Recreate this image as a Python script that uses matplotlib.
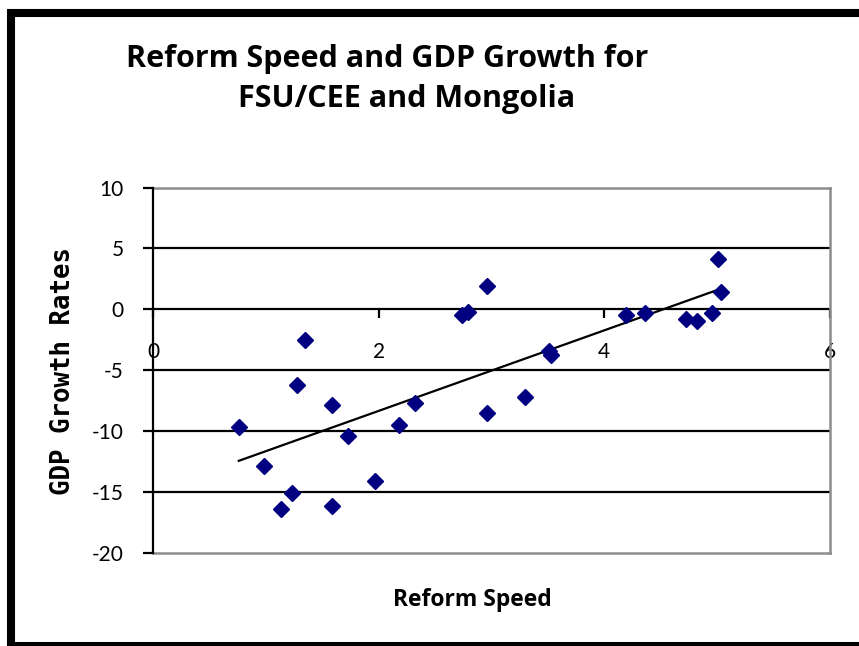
import numpy as np
import matplotlib
matplotlib.use("Agg")
import matplotlib.pyplot as plt
from matplotlib.patches import Rectangle

plt.rcParams["axes.unicode_minus"] = False

# ---- data ----
reform_speed = [0.76, 0.98, 1.13, 1.23, 1.28, 1.35, 1.59, 1.59, 1.73, 1.97,
                2.18, 2.32, 2.74, 2.79, 2.96, 2.96, 3.30, 3.51, 3.53, 4.19,
                4.36, 4.72, 4.82, 4.95, 5.01, 5.03]
gdp_growth = [-9.7, -12.9, -16.4, -15.1, -6.2, -2.5, -7.9, -16.2, -10.4, -14.1,
              -9.5, -7.7, -0.5, -0.2, 1.9, -8.5, -7.2, -3.4, -3.8, -0.5,
              -0.3, -0.8, -1.0, -0.3, 4.1, 1.4]
x_ticks = [0, 2, 4, 6]
y_ticks = [-20, -15, -10, -5, 0, 5, 10]
title_lines = ["Reform Speed and GDP Growth for", "FSU/CEE and Mongolia"]
x_label = "Reform Speed"
y_label = "GDP Growth Rates"

W, H = 859, 646
fig = plt.figure(figsize=(W / 100, H / 100), dpi=100)
fig.patch.set_facecolor("white")

ax = fig.add_axes([153 / W, 1 - 552.7 / H, (830 - 153) / W, (552.7 - 187.5) / H])
ax.set_xlim(0, 6)
ax.set_ylim(-20, 10)

# gridlines
for yv in y_ticks[1:-1]:
    ax.axhline(yv, color="black", lw=1.6, zorder=1)

for s in ["top", "right", "bottom"]:
    ax.spines[s].set_color("#8c8c8c")
    ax.spines[s].set_linewidth(1.8)
ax.spines["left"].set_color("black")
ax.spines["left"].set_linewidth(1.6)
ax.spines["left"].set_zorder(3)

ax.set_yticks(y_ticks)
ax.tick_params(axis="y", direction="out", length=7, width=1.6, color="black",
               pad=14, labelsize=15)
ax.tick_params(axis="x", bottom=False, labelbottom=False)
for lab in ax.get_yticklabels():
    lab.set_fontfamily("Lato")

# x axis crossing at y = 0
sec = ax.secondary_xaxis((0 - (-20)) / 30)
sec.set_xticks(x_ticks)
sec.xaxis.set_ticks_position("bottom")
sec.spines["bottom"].set_color("black")
sec.spines["bottom"].set_linewidth(1.6)
sec.spines["top"].set_visible(False)
sec.tick_params(axis="x", direction="out", length=6.5, width=1.6, color="black",
                pad=17, labelsize=15, bottom=True, labelbottom=True,
                top=False, labeltop=False)
for lab in sec.get_xticklabels():
    lab.set_fontfamily("Lato")

# trend line (linear least squares)
xs = np.array(reform_speed)
ys = np.array(gdp_growth)
m, b = np.polyfit(xs, ys, 1)
xl = np.array([xs.min(), xs.max()])
ax.plot(xl, m * xl + b, color="black", lw=1.6, zorder=4)

ax.plot(xs, ys, linestyle="none", marker="D", markersize=8.3,
        color="#000080", markeredgecolor="#000080", zorder=5)

# labels
fig.text(472 / W, 1 - 600 / H, x_label, ha="center", va="center",
         fontsize=16.5, fontweight="bold", family="Open Sans")
fig.text(63 / W, 1 - 371 / H, y_label, ha="center", va="center", rotation=90,
         fontsize=18.5, fontweight="bold", family="DejaVu Sans Mono")

fig.text(387 / W, 1 - 66.7 / H, title_lines[0], ha="center", va="baseline",
         fontsize=22, fontweight="bold", family="Open Sans")
fig.text(407 / W, 1 - 106.7 / H, title_lines[1], ha="center", va="baseline",
         fontsize=22, fontweight="bold", family="Open Sans")

# outer frame
fig.patches.append(Rectangle((11 / W, 0), (863 - 11) / W, 1 - 13 / H,
                             transform=fig.transFigure, fill=False,
                             edgecolor="black", linewidth=5.8, clip_on=False))

fig.savefig("out.png", dpi=100)
